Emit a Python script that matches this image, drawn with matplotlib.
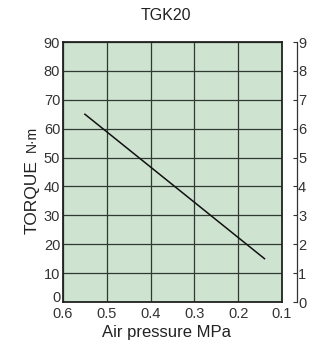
import numpy as np
import matplotlib
matplotlib.use("Agg")
import matplotlib.pyplot as plt
import matplotlib.transforms as mtransforms

plt.rcParams['font.family'] = ['Liberation Sans', 'DejaVu Sans']

# data
pressure = [0.55, 0.14]        # MPa
torque = [65, 15]              # N·m
x_ticks = [0.6, 0.5, 0.4, 0.3, 0.2, 0.1]
y_ticks = [0, 10, 20, 30, 40, 50, 60, 70, 80, 90]
y2_ticks = [0, 1, 2, 3, 4, 5, 6, 7, 8, 9]

fig = plt.figure(figsize=(3.28, 3.44), dpi=100)
ax = fig.add_axes([63/328, 42/344, 219/328, 260/344])
ax.set_facecolor('#cfe3d1')

ax.set_xlim(0.6, 0.1)
ax.set_ylim(0, 90)
ax.set_xticks(x_ticks)
ax.set_xticklabels(['0.6', '0.5', '0.4', '0.3', '0.2', '0.1'])
ax.set_yticks(y_ticks)
ax.grid(True, color='#2f3b30', linewidth=0.9)
ax.set_axisbelow(True)
ax.tick_params(length=0, labelsize=10.5, labelcolor='#333333')
ax.tick_params(axis='x', pad=3.5)
ax.tick_params(axis='y', pad=2)
for s in ax.spines.values():
    s.set_color('#222222')
    s.set_linewidth(1.3)

# the "0" on the left sits a bit above the bottom line in the original
lbl0 = ax.get_yticklabels()[0]
lbl0.set_transform(lbl0.get_transform() + mtransforms.ScaledTranslation(0, 4/72, fig.dpi_scale_trans))

ax.plot(pressure, torque, color='#111111', linewidth=1.1)

ax2 = ax.twinx()
ax2.set_ylim(0, 9)
ax2.set_yticks(y2_ticks)
ax2.spines['right'].set_position(('outward', 10.5))
ax2.spines['right'].set_color('#333333')
ax2.spines['right'].set_linewidth(0.9)
for k in ['top', 'left', 'bottom']:
    ax2.spines[k].set_visible(False)
ax2.tick_params(axis='y', direction='in', length=3, width=0.8, color='#333333',
                labelsize=10.5, labelcolor='#333333', pad=1)

fig.text(166/328, 1 - 15/344, 'TGK20', ha='center', va='center', fontsize=11.5, color='#222222')
fig.text(166/328, 1 - 333/344, 'Air pressure MPa', ha='center', va='center', fontsize=12, color='#222222')
fig.text(32/328, 1 - 197/344, 'TORQUE', ha='center', va='center', rotation=90, fontsize=12.5, color='#222222')
fig.text(32/328, 1 - 139/344, 'N·m', ha='center', va='center', rotation=90, fontsize=10, color='#222222')

fig.savefig('out.png', dpi=100)
